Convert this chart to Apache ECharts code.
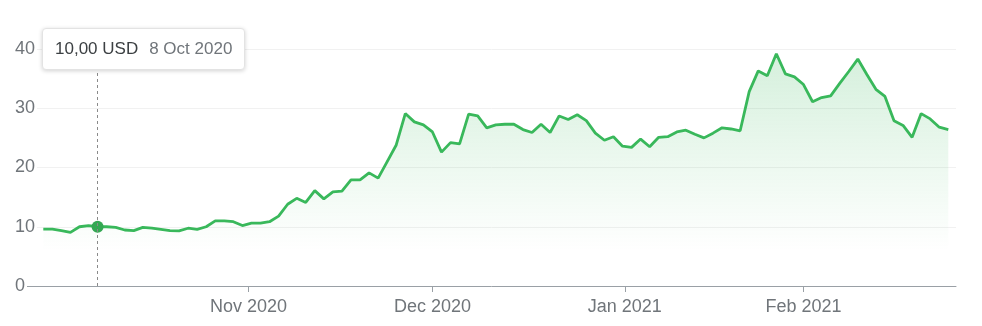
<!DOCTYPE html>
<html><head><meta charset="utf-8">
<script src="https://cdn.jsdelivr.net/npm/echarts@6/dist/echarts.min.js"></script>
<style>html,body{margin:0;padding:0;background:#fff}#c{width:982px;height:326px}</style>
</head><body><div id="c"></div>
<script>
const dates = [
'2020-09-30',
'2020-10-01','2020-10-02','2020-10-05','2020-10-06','2020-10-07','2020-10-08','2020-10-09',
'2020-10-12','2020-10-13','2020-10-14','2020-10-15','2020-10-16',
'2020-10-19','2020-10-20','2020-10-21','2020-10-22','2020-10-23',
'2020-10-26','2020-10-27','2020-10-28','2020-10-29','2020-10-30',
'2020-11-02','2020-11-03','2020-11-04','2020-11-05','2020-11-06',
'2020-11-09','2020-11-10','2020-11-11','2020-11-12','2020-11-13',
'2020-11-16','2020-11-17','2020-11-18','2020-11-19','2020-11-20',
'2020-11-23','2020-11-24','2020-11-25','2020-11-27','2020-11-30',
'2020-12-01','2020-12-02','2020-12-03','2020-12-04',
'2020-12-07','2020-12-08','2020-12-09','2020-12-10','2020-12-11',
'2020-12-14','2020-12-15','2020-12-16','2020-12-17','2020-12-18',
'2020-12-21','2020-12-22','2020-12-23','2020-12-24',
'2020-12-28','2020-12-29','2020-12-30','2020-12-31',
'2021-01-04','2021-01-05','2021-01-06','2021-01-07','2021-01-08',
'2021-01-11','2021-01-12','2021-01-13','2021-01-14','2021-01-15',
'2021-01-19','2021-01-20','2021-01-21','2021-01-22',
'2021-01-25','2021-01-26','2021-01-27','2021-01-28','2021-01-29',
'2021-02-01','2021-02-02','2021-02-03','2021-02-04','2021-02-05',
'2021-02-08','2021-02-09','2021-02-10','2021-02-11','2021-02-12',
'2021-02-16','2021-02-17','2021-02-18','2021-02-19',
'2021-02-22','2021-02-23','2021-02-24'
];
const prices = [
9.6,
9.6,9.35,9.05,10.0,10.2,10.0,10.0,
9.9,9.45,9.35,9.9,9.75,
9.55,9.35,9.3,9.75,9.55,
10.0,11.0,11.0,10.85,10.2,
10.6,10.6,10.85,11.8,13.8,
14.8,14.1,16.1,14.7,15.9,
16.0,17.9,17.9,19.1,18.2,
21.0,23.8,29.1,27.7,27.2,
26.0,22.6,24.2,24.0,
29.0,28.7,26.7,27.2,27.3,
27.3,26.4,25.9,27.3,25.9,
28.7,28.1,28.9,27.9,
25.8,24.6,25.2,23.6,
23.4,24.8,23.5,25.1,25.2,
26.0,26.3,25.6,25.0,25.8,
26.7,26.5,26.2,32.8,
36.3,35.5,39.2,35.8,35.3,
34.0,31.1,31.8,32.1,34.2,
36.2,38.3,35.7,33.2,32.0,
27.9,27.1,25.1,29.1,
28.2,26.8,26.4
];
const monthStarts = ['2020-11-01','2020-12-01','2021-01-01','2021-02-01'];
const monthLabels = ['Nov 2020','Dec 2020','Jan 2021','Feb 2021'];
const yTicks = [0,10,20,30,40];
const currency = 'USD';
const tipIndex = 6;

const MON = ['Jan','Feb','Mar','Apr','May','Jun','Jul','Aug','Sep','Oct','Nov','Dec'];
function t(s){ return Date.parse(s + 'T00:00:00Z'); }
const dayT = dates.map(t);
function posOf(s){
  const x = t(s);
  for (let i = 1; i < dayT.length; i++) {
    if (dayT[i] >= x) return i - 1 + (x - dayT[i-1]) / (dayT[i] - dayT[i-1]);
  }
  return dayT.length - 1;
}
const tickPos = monthStarts.map(posOf);
function fmtDate(s){ const d = new Date(t(s)); return d.getUTCDate() + ' ' + MON[d.getUTCMonth()] + ' ' + d.getUTCFullYear(); }
function fmtPrice(v){ return v.toFixed(2).replace('.', ',') + ' ' + currency; }

const FONT = "'Liberation Sans', Arial, sans-serif";
const chart = echarts.init(document.getElementById('c'), null, {renderer: 'canvas'});
chart.setOption({
  animation: false,
  grid: {left: 27, right: 26, top: 49, bottom: 40},
  xAxis: {
    type: 'value',
    min: -1.8, max: 100.85,
    axisLine: {show: true, lineStyle: {color: '#9aa0a6', width: 1}},
    axisTick: {show: true, customValues: tickPos, length: 6, lineStyle: {color: '#9aa0a6'}},
    axisLabel: {
      customValues: tickPos, margin: 12, color: '#70757a', fontSize: 18, fontFamily: FONT,
      formatter: function (v) {
        let best = 0;
        tickPos.forEach(function (p, i) { if (Math.abs(p - v) < Math.abs(tickPos[best] - v)) best = i; });
        return monthLabels[best];
      }
    },
    splitLine: {show: false}
  },
  yAxis: {
    type: 'value',
    min: yTicks[0], max: yTicks[yTicks.length - 1], interval: yTicks[1] - yTicks[0],
    axisLine: {show: false}, axisTick: {show: false},
    axisLabel: {align: 'left', margin: 13, color: '#70757a', fontSize: 18, fontFamily: FONT,
      backgroundColor: '#fff', padding: [4, 2, 0, 1]},
    splitLine: {lineStyle: {color: '#f1f1f1', width: 1}}
  },
  tooltip: {
    trigger: 'axis',
    transitionDuration: 0,
    alwaysShowContent: true,
    position: function () { return [42, 28]; },
    backgroundColor: '#fff',
    borderColor: '#e3e3e3', borderWidth: 1, borderRadius: 4,
    padding: [0, 12],
    extraCssText: 'box-shadow:0 1px 4px rgba(0,0,0,0.18);line-height:40px;',
    axisPointer: {type: 'line', snap: true, label: {show: false},
      lineStyle: {type: [3, 3], color: '#8a8a8a', width: 1}},
    formatter: function (params) {
      const i = params[0].dataIndex;
      return '<span style="font-family:' + FONT.replace(/'/g, '') + ';font-size:17px;color:#3c4043">' + fmtPrice(prices[i]) + '</span>' +
        '<span style="font-family:' + FONT.replace(/'/g, '') + ';font-size:17px;color:#70757a;margin-left:11px">' + fmtDate(dates[i]) + '</span>';
    }
  },
  series: [{
    type: 'line',
    data: prices.map(function (v, i) { return [i, v]; }),
    showSymbol: false,
    symbol: 'circle',
    symbolSize: 12,
    itemStyle: {color: '#34a853'},
    lineStyle: {color: '#34a853', width: 2.8},
    emphasis: {scale: false, itemStyle: {color: '#34a853', borderWidth: 0}},
    areaStyle: {color: new echarts.graphic.LinearGradient(0, 0, 0, 1, [
      {offset: 0, color: 'rgba(52,168,83,0.30)'},
      {offset: 0.85, color: 'rgba(52,168,83,0.0)'}
    ])}
  }]
});
chart.dispatchAction({type: 'showTip', seriesIndex: 0, dataIndex: tipIndex});
</script>
</body></html>
